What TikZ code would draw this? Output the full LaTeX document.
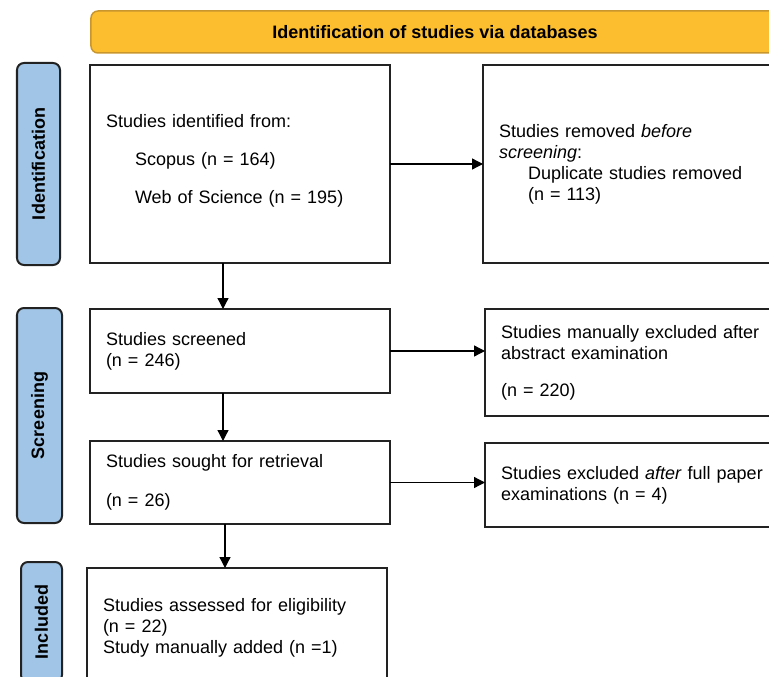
\documentclass[tikz,border=0pt]{standalone}
\usepackage{fontspec}
\setmainfont{Liberation Sans}
\usetikzlibrary{arrows.meta}
\usetikzlibrary{calc}
\definecolor{orange1}{RGB}{252, 190, 46}
\definecolor{orange2}{RGB}{200, 150, 45}
\definecolor{blue1}{RGB}{160, 197, 230}
\definecolor{gray1}{RGB}{34, 34, 34}

\begin{document}
\begin{tikzpicture}[x=1bp, y=-1bp, line width=2bp,
  font=\fontsize{18bp}{21bp}\selectfont,
  box/.style={draw=gray1, fill=white, align=left, inner xsep=16bp, inner ysep=0pt, outer sep=0pt},
  side/.style={draw=gray1, fill=blue1, rounded corners=7bp, rotate=90, inner sep=0pt, outer sep=0pt,
    font=\fontsize{18bp}{21bp}\selectfont\bfseries},
  link/.style={line width=1.3bp, -{Triangle[length=11bp,width=11bp]}}]
  \useasboundingbox (0,0) rectangle (769,677);
  \clip (0,0) rectangle (769,677);

  % header
  \node[draw=orange2, fill=orange1, rounded corners=7bp, line width=1.5bp, minimum width=688bp, minimum height=42bp,
    font=\fontsize{18bp}{21bp}\selectfont\bfseries] (h1) at (435,32) {Identification of studies via databases};

  % phase labels
  \node[side, minimum width=202bp, minimum height=43bp] (s1) at (38.5,164) {Identification};
  \node[side, minimum width=215bp, minimum height=45bp] (s2) at (39.5,415.5) {Screening};
  \node[side, minimum width=120bp, minimum height=41bp] (s3) at (41.5,622) {Included};

  % boxes
  \node[box, text width=268bp, minimum height=198bp] (n1) at (240,164) {Studies identified from:\\[17bp]
    \hspace*{29bp}Scopus (n = 164)\\[17bp]
    \hspace*{29bp}Web of Science (n = 195)\\[-11bp]\mbox{}};
  \node[box, text width=290bp, minimum height=198bp, anchor=west] (n2) at (483,164) {Studies removed \textit{before}\\
    \textit{screening}:\\
    \hspace*{29bp}Duplicate studies removed\\
    \hspace*{29bp}(n = 113)};
  \node[box, text width=268bp, minimum height=84bp] (n3) at (240,351) {Studies screened\\ (n = 246)};
  \node[box, text width=290bp, minimum height=107bp, anchor=west] (n4) at (485,362.5) {Studies manually excluded after\\
    abstract examination\\[16bp] (n = 220)};
  \node[box, text width=268bp, minimum height=83bp] (n5) at (240,482.5) {Studies sought for retrieval\\[18bp] (n = 26)};
  \node[box, text width=290bp, minimum height=84bp, anchor=west] (n6) at (485,485) {Studies excluded \textit{after} full paper\\
    examinations (n = 4)};
  \node[box, text width=268bp, minimum height=120bp] (n7) at (237,628) {Studies assessed for eligibility\\ (n = 22)\\
    Study manually added (n =1)};

  % connectors
  \coordinate (c1) at (223,0);
  \coordinate (c2) at (225,0);
  \foreach \from/\to in {n1/n3, n3/n5}
    \draw[link] (\from.south -| c1) -- (\to.north -| c1);
  \draw[link] (n5.south -| c2) -- (n7.north -| c2);
  \foreach \from/\to in {n1/n2, n3/n4, n5/n6}
    \draw[link] (\from.east) -- (\from.east -| \to.west);
\end{tikzpicture}
\end{document}
